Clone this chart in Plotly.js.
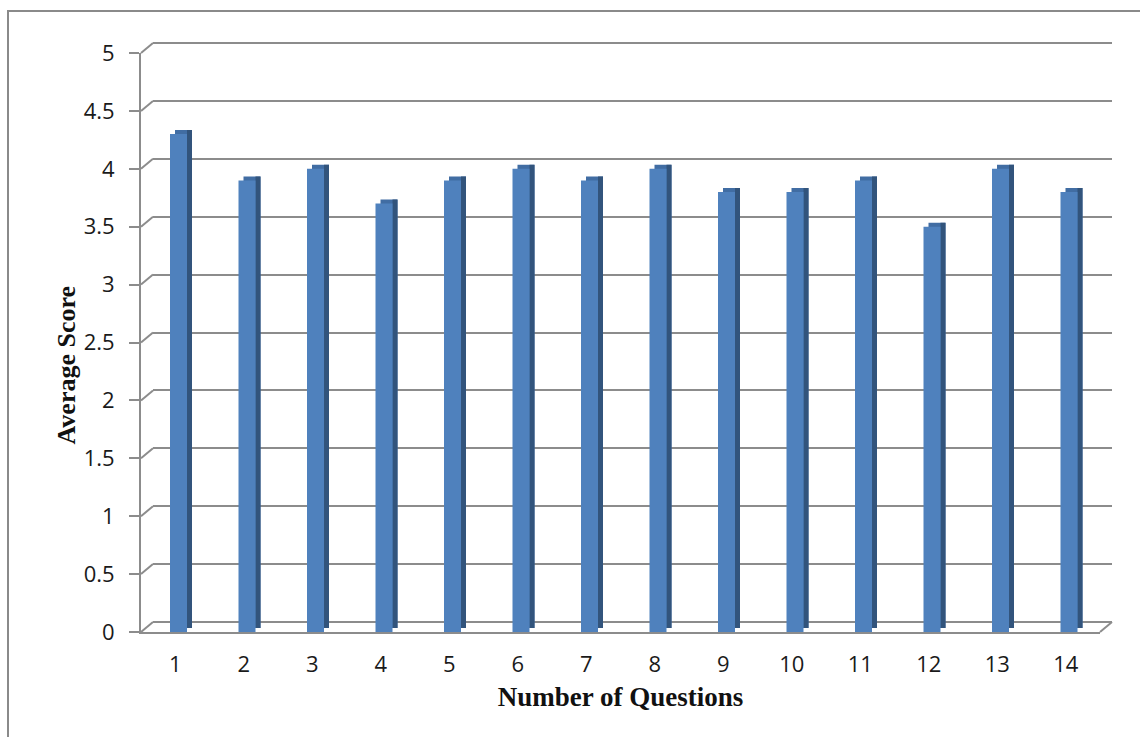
<!DOCTYPE html>
<html>
<head>
<meta charset="utf-8">
<script src="https://cdn.plot.ly/plotly-3.0.1.min.js"></script>
<style>html,body{margin:0;padding:0;background:#fff;}#chart{width:1140px;height:737px;}</style>
</head>
<body>
<div id="chart"></div>
<script>
// ---- data ----
const questions = [1, 2, 3, 4, 5, 6, 7, 8, 9, 10, 11, 12, 13, 14];
const questionLabels = ["1","2","3","4","5","6","7","8","9","10","11","12","13","14"];
const averageScores = [4.3, 3.9, 4.0, 3.7, 3.9, 4.0, 3.9, 4.0, 3.8, 3.8, 3.9, 3.5, 4.0, 3.8];
const yTickValues = [0, 0.5, 1, 1.5, 2, 2.5, 3, 3.5, 4, 4.5, 5];
const yTickLabels = ["0","0.5","1","1.5","2","2.5","3","3.5","4","4.5","5"];

// ---- geometry (pixels) ----
const W = 1140, H = 737;
const X0 = 141, X1 = 1100;   // front plot box left/right
const Y0 = 632, Y1 = 53;     // front value 0 / value 5
const GX = 12, GY = -10;     // back wall offset
const DX = 5, DY = -4;       // bar depth offset
const fx = p => p / W;
const fy = p => 1 - p / H;
const pitch = (X1 - X0) / questions.length;
const unitPx = (Y0 - Y1) / 5;
const pad = 0.06;            // range padding so edge gridlines are drawn
const barLeftRel = -5.25, barW = 17, sideW = 5;

const gridCol = '#8c8c8c';
const tickFont = {family: 'Open Sans, Liberation Sans, sans-serif', size: 22, color: '#1a1a1a'};
const titleFont = {family: 'Liberation Serif, Times New Roman, serif', size: 27, color: '#111', weight: 'bold'};

const traces = [
  {type: 'scatter', x: [], y: [], xaxis: 'x', yaxis: 'y', showlegend: false, hoverinfo: 'skip'},
  // top face (depth)
  {type: 'bar', x: questions, y: averageScores, xaxis: 'x2', yaxis: 'y2',
   offset: barLeftRel / pitch, width: barW / pitch,
   marker: {color: '#416da3', line: {width: 0}}, showlegend: false, hoverinfo: 'skip'},
  // side face (depth)
  {type: 'bar', x: questions, y: averageScores, xaxis: 'x2', yaxis: 'y2',
   offset: (barLeftRel + barW - DX) / pitch, width: sideW / pitch,
   marker: {color: '#32547c', line: {width: 0}}, showlegend: false, hoverinfo: 'skip'},
  // front face
  {type: 'bar', x: questions, y: averageScores, xaxis: 'x3', yaxis: 'y3',
   offset: barLeftRel / pitch, width: barW / pitch,
   marker: {color: '#4f81bd', line: {width: 0}}, showlegend: false}
];

const shapes = [];
// chart border
shapes.push({type: 'rect', xref: 'paper', yref: 'paper', x0: fx(8), x1: fx(1150), y0: fy(11), y1: fy(750),
  line: {color: '#8a8a8a', width: 2}, fillcolor: 'rgba(0,0,0,0)', layer: 'below'});
// connectors from front axis ticks to back wall gridlines
const vy = v => Y0 - unitPx * v;
yTickValues.forEach(v => {
  shapes.push({type: 'line', xref: 'paper', yref: 'paper',
    x0: fx(X0), y0: fy(vy(v)), x1: fx(X0 + GX), y1: fy(vy(v) + GY),
    line: {color: gridCol, width: 2}, layer: 'below'});
});
// floor right edge
shapes.push({type: 'line', xref: 'paper', yref: 'paper',
  x0: fx(X1), y0: fy(Y0), x1: fx(X1 + GX), y1: fy(Y0 + GY),
  line: {color: gridCol, width: 2}, layer: 'below'});

const hidden = {visible: false, range: [0.5, 14.5], fixedrange: true};

const layout = {
  width: W, height: H,
  margin: {l: 0, r: 0, t: 0, b: 0},
  paper_bgcolor: '#ffffff', plot_bgcolor: 'rgba(0,0,0,0)',
  showlegend: false,
  barmode: 'overlay',
  xaxis: Object.assign({}, hidden, {domain: [fx(X0 + GX), fx(X1 + GX)], anchor: 'y'}),
  yaxis: {domain: [fy(Y0 + GY + pad * unitPx), fy(Y1 + GY - pad * unitPx)], anchor: 'x',
    range: [-pad, 5 + pad], tickvals: yTickValues,
    showgrid: true, gridcolor: gridCol, gridwidth: 2, showticklabels: false, ticks: '',
    zeroline: false, showline: false, fixedrange: true},
  xaxis2: Object.assign({}, hidden, {domain: [fx(X0 + DX), fx(X1 + DX)], anchor: 'y2'}),
  yaxis2: {visible: false, domain: [fy(Y0 + DY), fy(Y1 + DY)], anchor: 'x2', range: [0, 5], fixedrange: true},
  xaxis3: {domain: [fx(X0), fx(X1)], anchor: 'y3', range: [0.5, 14.5],
    tickvals: questions, ticktext: questionLabels, tickfont: tickFont, ticks: '',
    ticklabelstandoff: 12,
    showline: true, linecolor: gridCol, linewidth: 2, showgrid: false, zeroline: false, fixedrange: true,
    title: {text: 'Number of Questions', standoff: 10, font: titleFont}},
  yaxis3: {domain: [fy(Y0), fy(Y1)], anchor: 'x3', range: [0, 5],
    tickvals: yTickValues, ticktext: yTickLabels, tickfont: tickFont,
    ticks: 'outside', ticklen: 10, tickwidth: 2, tickcolor: gridCol, ticklabelstandoff: 10,
    showline: true, linecolor: gridCol, linewidth: 2, showgrid: false, zeroline: false, fixedrange: true},
  shapes: shapes,
  annotations: [{text: '<b>Average Score</b>', xref: 'paper', yref: 'paper',
    x: fx(49), y: fy(365), showarrow: false, textangle: -90,
    font: {family: 'Liberation Serif, Times New Roman, serif', size: 26, color: '#111'}}]
};

Plotly.newPlot('chart', traces, layout, {displayModeBar: false, staticPlot: true});
</script>
</body>
</html>
